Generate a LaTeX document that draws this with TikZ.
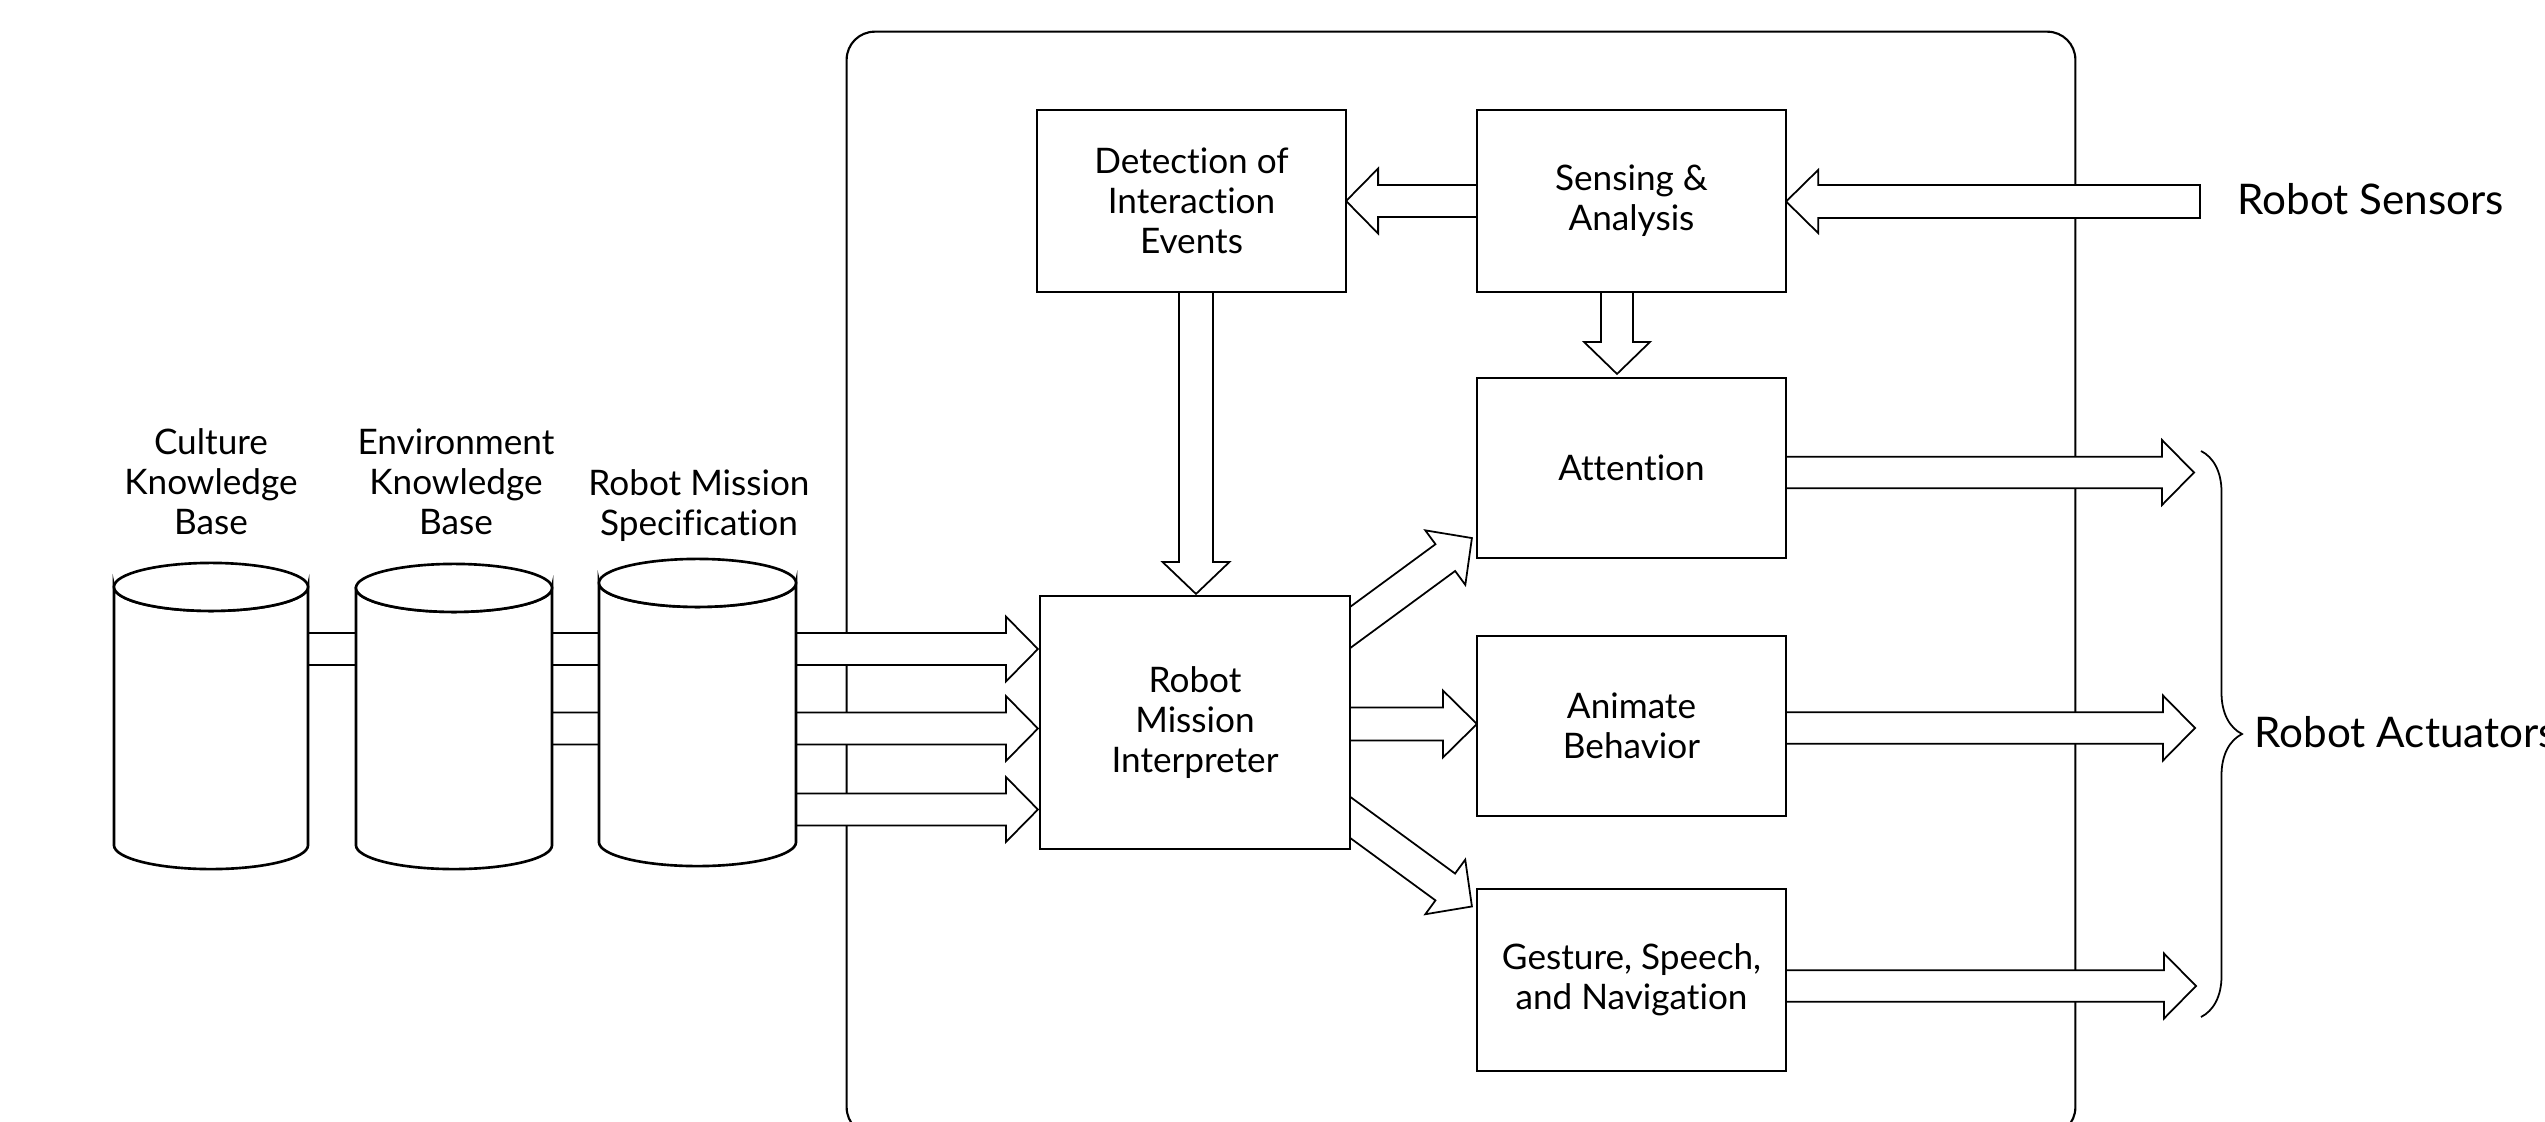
\documentclass[tikz,border=0pt]{standalone}
\usepackage{fontspec}
\setmainfont{Lato}[Ligatures=NoCommon]
\usetikzlibrary{calc,decorations.pathreplacing}
\pgfdeclarelayer{bg}
\pgfsetlayers{bg,main}
\newcommand\lblfont{\fontsize{10}{11.4}\selectfont}
\newcommand\sidefont{\fontsize{12}{14}\selectfont}
% #1 tail, #2 tip, #3 shaft half width, #4 head half width, #5 head length
\newcommand\fatarrow[5]{%
  \coordinate (fahd) at ($(#2)!#5!(#1)$);
  \draw[fat] ($(#1)!#3!90:(#2)$) -- ($(fahd)!#3!90:(#2)$) -- ($(fahd)!#4!90:(#2)$) -- (#2)
    -- ($(fahd)!#4!-90:(#2)$) -- ($(fahd)!#3!-90:(#2)$) -- ($(#1)!#3!-90:(#2)$) -- cycle;}
\tikzset{
  box/.style={draw, line width=0.78pt, fill=white, inner sep=0pt, outer sep=0pt, align=center, font=\lblfont, minimum width=3.09cm},
  fat/.style={draw, line width=0.5pt, fill=white, line join=miter, miter limit=20},
  cyl/.style={draw, line width=0.75pt, fill=white},
  cylbody/.style={inner sep=0pt, outer sep=0pt},
  frame/.style={draw, line width=0.6pt, rounded corners=0.28cm, inner sep=0pt, outer sep=0pt},
  lbl/.style={align=center, font=\lblfont, inner sep=0pt},
  side/.style={font=\sidefont, inner sep=0pt},
  bracestyle/.style={draw, line width=0.5pt, decorate, decoration={brace, amplitude=0.41cm}},
}
\begin{document}
\begin{tikzpicture}[x=0.01cm,y=-0.01cm]
\useasboundingbox (0,0) rectangle (2545,1121);

% boxes
\node[box, minimum height=1.82cm] (det) at (1191.5,201) {Detection of\\Interaction\\Events};
\node[box, minimum height=1.82cm] (sen) at (1631.5,201) {Sensing \&\\Analysis};
\node[box, minimum height=1.80cm] (att) at (1631.5,468) {Attention};
\node[box, minimum height=1.80cm] (ani) at (1631.5,726) {Animate\\Behavior};
\node[box, minimum height=1.82cm] (ges) at (1631.5,980) {Gesture, Speech,\\and Navigation};
\node[box, minimum width=3.10cm, minimum height=2.53cm] (int) at (1195,722.5) {Robot\\Mission\\Interpreter};

% cylinders
\node[cylbody, minimum width=1.94cm, minimum height=2.58cm] (cul) at (211,716) {};
\draw[cyl] (cul.north west) -- (cul.south west) arc[start angle=180,end angle=360,x radius=0.97cm,y radius=0.24cm]
  -- (cul.north east) arc[start angle=0,end angle=-180,x radius=0.97cm,y radius=0.24cm] -- cycle;
\draw[cyl] (cul.north) ellipse[x radius=0.97cm,y radius=0.24cm];

\node[cylbody, minimum width=1.96cm, minimum height=2.57cm] (env) at (454,716.5) {};
\draw[cyl] (env.north west) -- (env.south west) arc[start angle=180,end angle=360,x radius=0.98cm,y radius=0.24cm]
  -- (env.north east) arc[start angle=0,end angle=-180,x radius=0.98cm,y radius=0.24cm] -- cycle;
\draw[cyl] (env.north) ellipse[x radius=0.98cm,y radius=0.24cm];

\node[cylbody, minimum width=1.97cm, minimum height=2.59cm] (rms) at (697.5,712.5) {};
\draw[cyl] (rms.north west) -- (rms.south west) arc[start angle=180,end angle=360,x radius=0.985cm,y radius=0.24cm]
  -- (rms.north east) arc[start angle=0,end angle=-180,x radius=0.985cm,y radius=0.24cm] -- cycle;
\draw[cyl] (rms.north) ellipse[x radius=0.985cm,y radius=0.24cm];

% labels
\node[lbl] (culL) at (211,482) {Culture\\Knowledge\\Base};
\node[lbl] (envL) at (456,482) {Environment\\Knowledge\\Base};
\node[lbl] (rmsL) at (699,506) {Robot Mission\\Specification};
\node[side, anchor=base west] (rsen) at (2237,214) {Robot Sensors};
\node[side, anchor=base west] (ract) at (2254,747) {Robot Actuators};

% brace
\coordinate (bt) at (2201,451);
\coordinate (bb) at (2201,1017);
\draw[bracestyle] (bt) -- (bb);

\begin{pgfonlayer}{bg}
\node[frame, minimum width=12.28cm, minimum height=11.03cm] (frm) at (1461,583.5) {};

% sensors in
\coordinate (sIn) at (2200,201.5);
\coordinate (sInE) at (sen.east |- sIn);
\fatarrow{sIn}{sInE}{0.165cm}{0.315cm}{0.32cm}
% sensing -> detection
\coordinate (sdS) at ($(sen.west)+(10,0)$);
\fatarrow{sdS}{det.east}{0.16cm}{0.325cm}{0.32cm}
% sensing -> attention
\coordinate (saS) at ($(sen.south)+(-14.5,-10)$);
\coordinate (saE) at ($(att.north)+(-14.5,-4)$);
\fatarrow{saS}{saE}{0.16cm}{0.33cm}{0.32cm}
% detection -> interpreter
\coordinate (diS) at ($(det.south)+(4.5,-10)$);
\coordinate (diE) at ($(int.north)+(1,-2)$);
\fatarrow{diS}{diE}{0.17cm}{0.335cm}{0.32cm}
% inputs from knowledge bases
\coordinate (i1s) at (cul.center |- 0,649);
\coordinate (i1e) at ($(int.west |- 0,649)+(-2,0)$);
\fatarrow{i1s}{i1e}{0.16cm}{0.325cm}{0.32cm}
\coordinate (i2s) at (env.center |- 0,728.5);
\coordinate (i2e) at ($(int.west |- 0,728.5)+(-2,0)$);
\fatarrow{i2s}{i2e}{0.16cm}{0.325cm}{0.32cm}
\coordinate (i3s) at (rms.center |- 0,809.5);
\coordinate (i3e) at ($(int.west |- 0,809.5)+(-2,0)$);
\fatarrow{i3s}{i3e}{0.16cm}{0.325cm}{0.32cm}
% interpreter -> animate
\coordinate (iaS) at ($(int.east |- 0,724)+(-10,0)$);
\coordinate (iaE) at (ani.west |- 0,724);
\fatarrow{iaS}{iaE}{0.165cm}{0.335cm}{0.34cm}
% interpreter -> attention (diagonal)
\coordinate (d1s) at (1300,664.3);
\coordinate (d1e) at ($(att.south west)+(-5,-20)$);
\fatarrow{d1s}{d1e}{0.166cm}{0.338cm}{0.33cm}
% interpreter -> gesture (diagonal)
\coordinate (d2s) at (1300,780.7);
\coordinate (d2e) at ($(ges.north west)+(-5,17.5)$);
\fatarrow{d2s}{d2e}{0.166cm}{0.338cm}{0.33cm}
% outputs to actuators
\coordinate (o1s) at ($(att.east |- 0,472.5)+(-10,0)$);
\coordinate (o1e) at (2194,472.5);
\fatarrow{o1s}{o1e}{0.158cm}{0.325cm}{0.32cm}
\coordinate (o2s) at ($(ani.east |- 0,728)+(-10,0)$);
\coordinate (o2e) at (2195,728);
\fatarrow{o2s}{o2e}{0.158cm}{0.325cm}{0.32cm}
\coordinate (o3s) at ($(ges.east |- 0,986)+(-10,0)$);
\coordinate (o3e) at (2196,986);
\fatarrow{o3s}{o3e}{0.158cm}{0.325cm}{0.32cm}
\end{pgfonlayer}
\end{tikzpicture}
\end{document}
